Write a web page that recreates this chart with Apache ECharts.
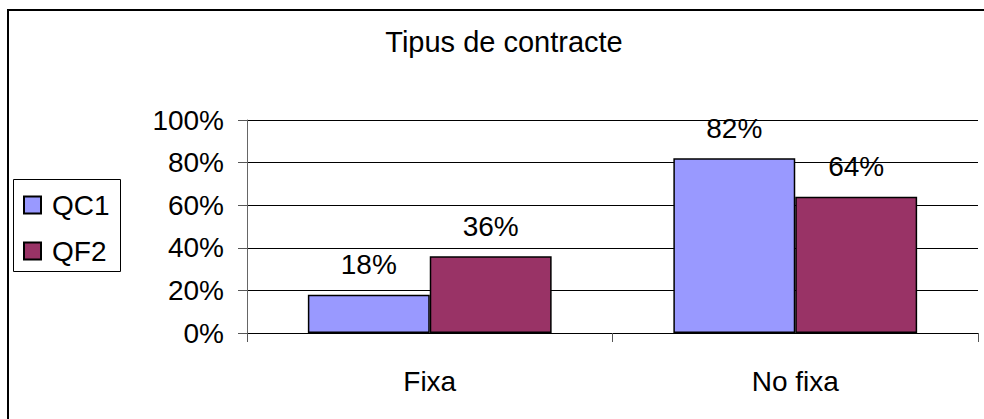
<!DOCTYPE html>
<html lang="ca">

<head>
  <meta charset="UTF-8" />
  <title>Tipus de contracte</title>
  <script src="https://cdn.jsdelivr.net/npm/echarts@6/dist/echarts.min.js"></script>
</head>

<body style="margin: 0; overflow: hidden; background: #fff;">
  <div id="panel" style="width: 984px; height: 419px;"></div>
  <script>
    var categories = ['Fixa', 'No fixa'];
    var seriesNames = ['QC1', 'QF2'];
    var qc1Values = [18, 82];
    var qf2Values = [36, 64];
    var yTicks = [0, 20, 40, 60, 80, 100];

    var FONT = '"Liberation Sans", Arial, sans-serif';
    var myChart = echarts.init(document.getElementById('panel'), null, { renderer: 'svg' });

    function barLabel() {
      return {
        show: true,
        position: 'top',
        distance: 16,
        formatter: '{c}%',
        color: '#000',
        fontFamily: FONT,
        fontSize: 28,
        lineHeight: 28
      };
    }

    var option = {
      backgroundColor: '#fff',
      animation: false,
      graphic: [
        {
          type: 'rect',
          shape: { x: 8, y: 10, width: 1000, height: 500 },
          style: { fill: 'none', stroke: '#000', lineWidth: 2 },
          silent: true
        },
        {
          type: 'rect',
          shape: { x: 13.5, y: 179.5, width: 107, height: 92 },
          style: { fill: 'none', stroke: '#000', lineWidth: 1 },
          silent: true
        },
        {
          type: 'text',
          x: 504,
          y: 27,
          style: {
            text: 'Tipus de contracte',
            fill: '#000',
            font: '29px ' + FONT,
            align: 'center',
            verticalAlign: 'top',
            lineHeight: 29
          }
        }
      ],
      legend: {
        orient: 'vertical',
        left: 23,
        top: 191,
        padding: 0,
        itemGap: 18,
        itemWidth: 17,
        itemHeight: 17,
        icon: 'rect',
        data: seriesNames,
        textStyle: {
          color: '#000',
          fontFamily: FONT,
          fontSize: 28,
          lineHeight: 28,
          padding: [0, 0, 0, 6]
        }
      },
      grid: { left: 247, right: 6, top: 120, bottom: 86 },
      xAxis: {
        type: 'category',
        data: categories,
        axisLine: { lineStyle: { color: '#000', width: 1 } },
        axisTick: { show: true, length: 9, lineStyle: { color: '#555' } },
        axisLabel: { color: '#000', fontFamily: FONT, fontSize: 28, lineHeight: 28, margin: 34 }
      },
      yAxis: {
        type: 'value',
        min: yTicks[0],
        max: yTicks[yTicks.length - 1],
        interval: 20,
        axisLine: { show: true, lineStyle: { color: '#666', width: 1 } },
        axisTick: { show: true, length: 9, lineStyle: { color: '#555' } },
        axisLabel: {
          color: '#000',
          fontFamily: FONT,
          fontSize: 28,
          margin: 23,
          formatter: '{value}%'
        },
        splitLine: { show: true, lineStyle: { color: '#000', width: 1 } }
      },
      series: [
        {
          name: seriesNames[0],
          type: 'bar',
          data: qc1Values,
          barGap: '0%',
          barCategoryGap: '33.3%',
          itemStyle: { color: '#9999FF', borderColor: '#000', borderWidth: 1.5 },
          label: barLabel()
        },
        {
          name: seriesNames[1],
          type: 'bar',
          data: qf2Values,
          barGap: '0%',
          barCategoryGap: '33.3%',
          itemStyle: { color: '#993366', borderColor: '#000', borderWidth: 1.5 },
          label: barLabel()
        }
      ]
    };

    myChart.setOption(option);

    window.addEventListener('resize', function () {
      myChart.resize();
    });
  </script>
</body>

</html>
